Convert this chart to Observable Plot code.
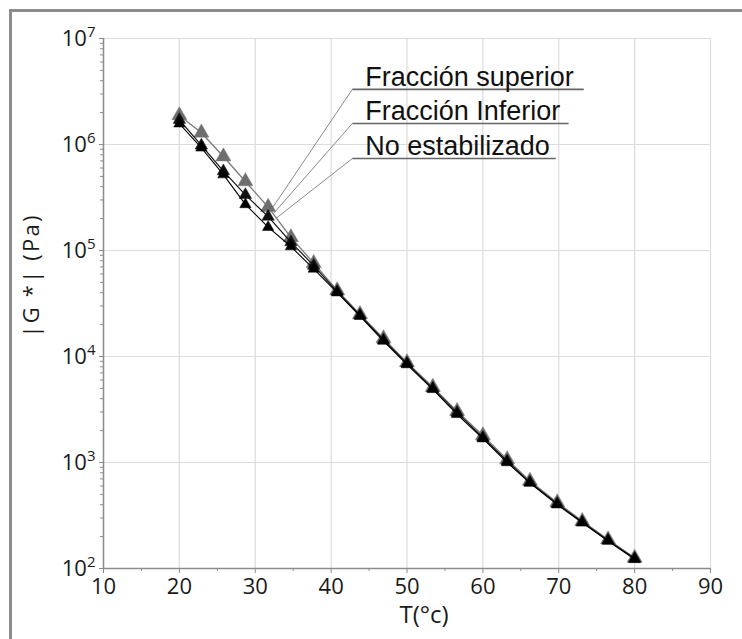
<!DOCTYPE html>
<html><head><meta charset="utf-8">
<script src="https://cdn.jsdelivr.net/npm/d3@7"></script>
<script src="https://cdn.jsdelivr.net/npm/@observablehq/plot@0.6"></script>
<style>
body{margin:0;background:#fff;}
#wrap{position:relative;width:742px;height:639px;overflow:hidden;background:#fff;}
#chart{position:absolute;left:0;top:0;}
#frame{position:absolute;left:9px;top:9px;width:800px;height:700px;border-left:3px solid #8c8c8c;border-top:3px solid #8c8c8c;pointer-events:none;z-index:2;}
</style></head><body>
<div id="wrap"><div id="chart"></div><div id="frame"></div></div>
<script>
// Temperature (°C)
const temperature = [20, 22.9, 25.8, 28.7, 31.7, 34.7, 37.7, 40.8, 43.8, 46.9, 50, 53.4, 56.6, 60, 63.2, 66.2, 69.8, 73.1, 76.5, 80];
// |G*| (Pa)
const fraccionSuperior = [1.88e6, 1.29e6, 7.7e5, 4.48e5, 2.57e5, 1.33e5, 7.6e4, 4.2e4, 2.5e4, 1.48e4, 8.8e3, 5.15e3, 3.05e3, 1.8e3, 1.07e3, 670, 420, 280, 188, 126];
const fraccionInferior = [1.71e6, 9.8e5, 5.6e5, 3.35e5, 2.09e5, 1.2e5, 7.2e4, 4.1e4, 2.45e4, 1.43e4, 8.6e3, 5.0e3, 2.95e3, 1.72e3, 1.03e3, 650, 408, 274, 184, 124];
const noEstabilizado = [1.57e6, 9.3e5, 5.2e5, 2.72e5, 1.66e5, 1.09e5, 6.7e4, 4.0e4, 2.4e4, 1.4e4, 8.4e3, 4.9e3, 2.85e3, 1.68e3, 1.0e3, 640, 400, 270, 182, 122];
const seriesNames = ["Fracción superior", "Fracción Inferior", "No estabilizado"];

const xTicks = [10, 20, 30, 40, 50, 60, 70, 80, 90];
const xMinorTicks = [15, 25, 35, 45, 55, 65, 75, 85];
const yTicks = [1e2, 1e3, 1e4, 1e5, 1e6, 1e7];
const yMinorTicks = [2,3,4,5,6,7,8,9];
const xTitle = "T(°c)";
const yTitle = "|G *| (Pa)";

// annotation (label) anchors in data space
const labelStartT = 42.8;
const labelTextT = 44.5;
const labelG = [3.31e6, 1.58e6, 7.38e5];
const labelEndT = [73.3, 71.3, 69.6];
const leaderEndT = [32.2, 32.4, 32.7];
const leaderEndG = [2.49e5, 2.23e5, 2.0e5];

const values = [fraccionSuperior, fraccionInferior, noEstabilizado];
const rows = [];
values.forEach((arr, s) => arr.forEach((g, i) => rows.push({T: temperature[i], G: g, series: seriesNames[s]})));
const bySeries = name => rows.filter(r => r.series === name);

const yMinor = [];
for (let e = 2; e < 7; e++) for (const m of yMinorTicks) yMinor.push(m * Math.pow(10, e));

const labels = seriesNames.map((name, i) => ({name, t0: labelStartT, tt: labelTextT, t1: labelEndT[i], g: labelG[i], te: leaderEndT[i], ge: leaderEndG[i]}));

const styles = [
  {stroke: "#7a7a7a", fill: "#6e6e6e", r: 5.6, sw: 1.3},
  {stroke: "#111", fill: "#111", r: 4.6, sw: 1.2},
  {stroke: "#000", fill: "#000", r: 4.2, sw: 1.1}
];

const marks = [
  Plot.gridX(xTicks, {stroke: "#dcdcdc", strokeOpacity: 1, strokeWidth: 1.2}),
  Plot.gridY(yTicks, {stroke: "#dcdcdc", strokeOpacity: 1, strokeWidth: 1.2}),
  Plot.axisX(xTicks, {tickSize: 5, tickPadding: 5, stroke: "#8c8c8c", fill: "#1a1a1a", fontSize: 22, tickFormat: d => String(d), label: null}),
  Plot.axisX(xMinorTicks, {tickSize: 3, stroke: "#8c8c8c", tickFormat: () => "", label: null}),
  Plot.axisY(yTicks, {tickSize: 4, tickPadding: 4, stroke: "#8c8c8c", fill: "#1a1a1a", fontSize: 22, tickFormat: d => "10^" + Math.round(Math.log10(d)), label: null}),
  Plot.axisY(yMinor, {tickSize: 3, stroke: "#8c8c8c", tickFormat: () => "", label: null}),
  Plot.ruleX([10], {stroke: "#8c8c8c", strokeWidth: 1.5}),
  Plot.ruleY([1e2], {stroke: "#8c8c8c", strokeWidth: 1.5}),
  // leaders and underlines
  Plot.link(labels, {x1: "t0", y1: "g", x2: "te", y2: "ge", stroke: "#8a8a8a", strokeWidth: 1}),
  Plot.link(labels, {x1: "t0", y1: "g", x2: "t1", y2: "g", stroke: "#666", strokeWidth: 1.6}),
  Plot.text(labels, {x: "tt", y: "g", text: "name", textAnchor: "start", lineAnchor: "bottom", dy: -3, fontSize: 27, fontFamily: "Liberation Sans, Arial, sans-serif", fill: "#111"}),
];
seriesNames.forEach((name, k) => {
  const s = styles[k];
  marks.push(Plot.line(bySeries(name), {x: "T", y: "G", stroke: s.stroke, strokeWidth: s.sw}));
  marks.push(Plot.dot(bySeries(name), {x: "T", y: "G", symbol: "triangle", r: s.r, fill: s.fill, stroke: s.stroke, strokeWidth: 0.5}));
});
marks.push(Plot.text([xTitle], {frameAnchor: "bottom", dx: 17, dy: 54, fontSize: 24, fill: "#1a1a1a"}));
marks.push(Plot.text([yTitle], {frameAnchor: "left", textAnchor: "middle", rotate: -90, dx: -72, dy: -28, fontSize: 22, fill: "#1a1a1a", className: "ytitle"}));

const chart = Plot.plot({
  width: 742,
  height: 639,
  marginLeft: 103,
  marginRight: 32,
  marginTop: 38,
  marginBottom: 71,
  x: {type: "linear", domain: [10, 90]},
  y: {type: "log", domain: [1e2, 1e7]},
  style: {fontFamily: "'Open Sans', sans-serif", fontSize: "22px", background: "#fff", color: "#1a1a1a"},
  marks
});
chart.querySelectorAll('g[aria-label="y-axis tick label"] text').forEach(t => {
  const s = t.textContent;
  if (s.startsWith("10^")) {
    const e = s.slice(3);
    t.textContent = "10";
    const sup = document.createElementNS("http://www.w3.org/2000/svg", "tspan");
    sup.setAttribute("dy", "-0.55em");
    sup.setAttribute("font-size", "0.68em");
    sup.textContent = e;
    t.appendChild(sup);
  }
});
chart.querySelectorAll('g.ytitle text').forEach(t => t.setAttribute("letter-spacing", "2.2px"));
document.getElementById("chart").appendChild(chart);
</script>
</body></html>
